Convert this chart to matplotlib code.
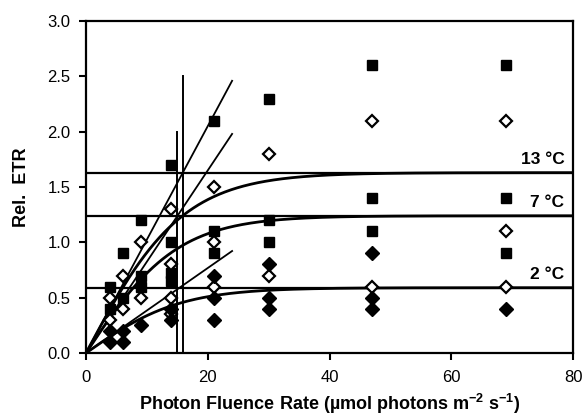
import numpy as np
import matplotlib
matplotlib.use("Agg")
import matplotlib.pyplot as plt

plt.rcParams['font.family'] = ['Liberation Sans', 'DejaVu Sans']
plt.rcParams['mathtext.default'] = 'regular'

# ---- data ----
sq_x = [4, 4, 6, 6, 9, 9, 9, 14, 14, 14, 14, 21, 21, 21, 30, 30, 30, 47, 47, 47, 69, 69, 69]
sq_y = [0.6, 0.4, 0.9, 0.5, 1.2, 0.7, 0.6, 1.7, 1.0, 0.72, 0.65, 2.1, 1.1, 0.9,
        2.3, 1.2, 1.0, 2.6, 1.4, 1.1, 2.6, 1.4, 0.9]

od_x = [4, 4, 6, 6, 9, 9, 14, 14, 14, 14, 21, 21, 21, 30, 30, 47, 47, 69, 69, 69]
od_y = [0.5, 0.3, 0.7, 0.4, 1.0, 0.5, 1.3, 0.8, 0.5, 0.35, 1.5, 1.0, 0.6,
        1.8, 0.7, 2.1, 0.6, 2.1, 1.1, 0.6]

fd_x = [4, 4, 6, 6, 9, 14, 14, 21, 21, 21, 30, 30, 30, 47, 47, 47, 69]
fd_y = [0.2, 0.1, 0.2, 0.1, 0.25, 0.4, 0.3, 0.7, 0.5, 0.3, 0.8, 0.5, 0.4,
        0.9, 0.5, 0.4, 0.4]

temps = ['2 °C', '7 °C', '13 °C']
pmax = [0.59, 1.24, 1.63]          # saturation level (horizontal lines)
alpha = [0.0384, 0.0825, 0.1025]   # initial slope (straight lines)
line_end = 24                      # straight lines end here
ik_x = [15.0, 15.9]                # Ik markers (7 °C, 13 °C)
ik_top = [2.0, 2.5]

xticks = [0, 20, 40, 60, 80]
yticks = [0.0, 0.5, 1.0, 1.5, 2.0, 2.5, 3.0]

# ---- figure ----
fig = plt.figure(figsize=(5.85, 4.17), dpi=100)
ax = fig.add_axes([0.147, 0.1535, 0.8325, 0.796])

xs = np.linspace(0, 80, 400)
for pm, a, lab in zip(pmax, alpha, temps):
    ax.axhline(pm, color='black', lw=1.6, zorder=2)
    ax.plot(xs, pm * np.tanh(a * xs / pm), color='black', lw=2.0, zorder=2)
    ax.plot([0, line_end], [0, a * line_end], color='black', lw=1.3, zorder=2)
    ax.text(78.6, pm + 0.05, lab, ha='right', va='bottom', fontsize=12.5,
            fontweight='bold')

for xv, top in zip(ik_x, ik_top):
    ax.plot([xv, xv], [0, top], color='black', lw=1.4, zorder=2)

ax.plot(sq_x, sq_y, linestyle='none', marker='s', ms=7.5, mfc='black',
        mec='black', zorder=3)
ax.plot(od_x, od_y, linestyle='none', marker='D', ms=6, mfc='white',
        mec='black', mew=1.6, zorder=3)
ax.plot(fd_x, fd_y, linestyle='none', marker='D', ms=7.5, mfc='black',
        mec='black', zorder=3)

ax.set_xlim(0, 80)
ax.set_ylim(0, 3.0)
ax.set_xticks(xticks)
ax.set_yticks(yticks)
ax.set_xticklabels([str(v) for v in xticks])
ax.set_yticklabels([f"{v:.1f}" for v in yticks])
ax.tick_params(direction='out', length=5, width=1.5, labelsize=12)
ax.tick_params(axis='x', pad=7)
ax.tick_params(axis='y', pad=6)
for s in ax.spines.values():
    s.set_linewidth(1.6)

ax.set_xlabel('Photon Fluence Rate (µmol photons m$^{-2}$ s$^{-1}$)',
              fontsize=13, fontweight='bold', labelpad=5)
ax.set_ylabel('Rel.  ETR', fontsize=13, fontweight='bold', labelpad=12.5)

fig.savefig('out.png', dpi=100)
